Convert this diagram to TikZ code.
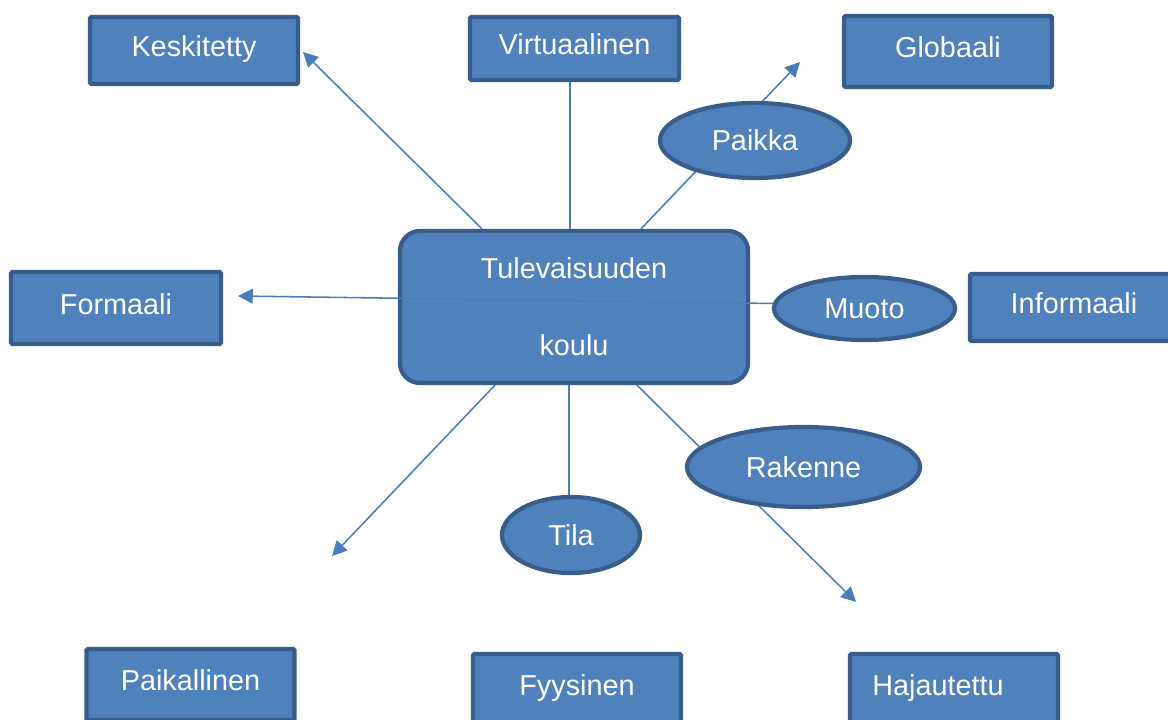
\documentclass[tikz,border=0pt]{standalone}
\usepackage{fontspec}
\setmainfont{Liberation Sans}
\usetikzlibrary{arrows.meta, shapes.geometric, calc, backgrounds}
\definecolor{boxfill}{HTML}{4F81BD}
\definecolor{boxline}{HTML}{385D8A}
\definecolor{linkcol}{HTML}{4A7EBB}
\tikzset{
  box/.style={draw=boxline, fill=boxfill, line width=3pt, rounded corners=1pt, text=white, font=\fontsize{20.5}{24}\selectfont, inner sep=0pt, minimum width=5.2cm, minimum height=1.675cm, text height=15pt, text depth=6pt},
  oval/.style={ellipse, draw=boxline, fill=boxfill, line width=3pt, text=white, font=\fontsize{20.5}{24}\selectfont, inner sep=0pt, text height=14.7pt, text depth=0pt},
  hub/.style={draw=boxline, fill=boxfill, line width=3pt, rounded corners=0.5cm, text=white, font=\fontsize{20.5}{54.6}\selectfont, align=center, inner sep=0pt, minimum width=8.7cm, minimum height=3.8cm},
  arr/.style={-{Triangle[length=10.5pt, width=10.5pt]}, draw=linkcol, fill=linkcol, line width=1.1pt},
  lnk/.style={draw=linkcol, line width=1.1pt}
}

\begin{document}
\begin{tikzpicture}[x=0.025cm, y=-0.025cm]
    \useasboundingbox (0,0) rectangle (1168,720);
    \clip (0,0) rectangle (1168,720);

    \node[box] (kes) at (194,50.5) {Keskitetty};
    \node[box, minimum width=5.225cm, minimum height=1.575cm] (vir) at (574.5,48.5) {Virtuaalinen};
    \node[box, minimum height=1.775cm] (glo) at (948,51.5) {Globaali};
    \node[box, minimum width=5.25cm, minimum height=1.8cm] (frm) at (116,308) {Formaali};
    \node[box, minimum height=1.675cm] (inf) at (1074,307.5) {Informaali};
    \node[box, minimum height=1.775cm] (pai) at (190.5,684.5) {Paikallinen};
    \node[box, minimum height=1.775cm] (fyy) at (577,689.5) {Fyysinen};
    \node[box, minimum height=1.775cm] (haj) at (954,689.5) {Hajautettu\hspace*{0.8cm}};
    \node[hub] (kou) at (574,307) {Tulevaisuuden\\koulu};

    \node[oval, minimum width=4.75cm, minimum height=1.875cm] (pk) at (755,140.5) {Paikka};
    \node[oval, minimum width=4.525cm, minimum height=1.575cm] (mu) at (864.5,308.5) {Muoto};
    \node[oval, minimum width=5.825cm, minimum height=2cm] (ra) at (803.5,467) {Rakenne};
    \node[oval, minimum width=3.45cm, minimum height=1.9cm] (ti) at (571,535) {Tila};

    \coordinate (kTip) at (303,52);
    \coordinate (pTip) at (800,62);
    \coordinate (fTip) at (238,296);
    \coordinate (lTip) at (332,556);
    \coordinate (rTip) at (856,602);

    \begin{scope}[on background layer]
      \draw[arr] ($(kou.north)+(-92,0)$) -- (kTip);
      \draw[lnk] ($(kou.north)+(-4,0)$) -- ($(vir.south)+(-4.5,0)$);
      \draw[arr] ($(kou.north)+(67,0)$) -- (pTip);
      \draw[arr] ($(kou.south)+(-79,0)$) -- (lTip);
      \draw[lnk] ($(kou.south)+(-5,0)$) -- ($(ti.north)+(-2,0)$);
      \draw[arr] ($(kou.south)+(63,0)$) -- (rTip);
    \end{scope}
    \draw[arr] ($(mu.west)+(1,-5)$) -- (fTip);
\end{tikzpicture}
\end{document}
